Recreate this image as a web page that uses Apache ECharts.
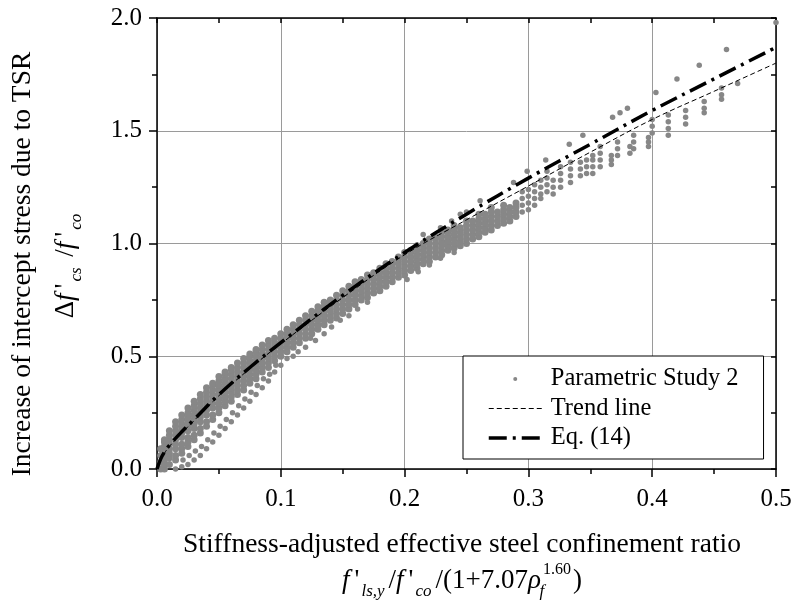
<!DOCTYPE html>
<html>
<head>
<meta charset="utf-8">
<script src="https://cdn.jsdelivr.net/npm/echarts@6/dist/echarts.min.js"></script>
<style>html,body{margin:0;padding:0;background:#fff}#c{width:796px;height:610px}</style>
</head>
<body>
<div id="c"></div>
<script>
// ---- data ----
const xTicks = [0.0, 0.1, 0.2, 0.3, 0.4, 0.5];
const yTicks = [0.0, 0.5, 1.0, 1.5, 2.0];

// dense core of Parametric Study 2: [x, [y values]]
const bandColumns = [
 [0.003,[0.00,0.03,0.06,0.09]],
 [0.006,[0.00,0.02,0.04,0.06,0.08,0.10,0.12,0.13]],
 [0.010,[0.02,0.05,0.07,0.09,0.11,0.13,0.15,0.17]],
 [0.015,[0.04,0.06,0.09,0.11,0.13,0.15,0.17,0.19,0.21]],
 [0.020,[0.07,0.09,0.11,0.14,0.16,0.18,0.20,0.22,0.24]],
 [0.025,[0.10,0.12,0.14,0.17,0.19,0.21,0.23,0.25,0.27]],
 [0.030,[0.13,0.15,0.18,0.20,0.22,0.24,0.26,0.28,0.30]],
 [0.035,[0.16,0.18,0.21,0.23,0.25,0.27,0.29,0.31,0.33]],
 [0.040,[0.19,0.21,0.24,0.26,0.28,0.30,0.32,0.34,0.36]],
 [0.045,[0.22,0.24,0.27,0.29,0.31,0.33,0.35,0.37,0.38]],
 [0.050,[0.25,0.27,0.29,0.31,0.33,0.35,0.37,0.39,0.41]],
 [0.055,[0.28,0.30,0.32,0.34,0.36,0.38,0.40,0.42,0.43]],
 [0.060,[0.30,0.32,0.34,0.36,0.38,0.40,0.42,0.44,0.45]],
 [0.065,[0.33,0.35,0.37,0.39,0.41,0.43,0.45,0.47]],
 [0.070,[0.35,0.37,0.39,0.41,0.43,0.45,0.47,0.49]],
 [0.075,[0.38,0.40,0.42,0.44,0.46,0.48,0.50,0.51]],
 [0.080,[0.40,0.42,0.44,0.46,0.48,0.50,0.52,0.53]],
 [0.085,[0.43,0.45,0.47,0.49,0.51,0.53,0.55]],
 [0.090,[0.45,0.47,0.49,0.51,0.53,0.55,0.57]],
 [0.095,[0.48,0.50,0.52,0.54,0.56,0.58]],
 [0.100,[0.50,0.52,0.54,0.56,0.58,0.60]],
 [0.105,[0.52,0.54,0.56,0.58,0.60,0.62]],
 [0.110,[0.54,0.56,0.58,0.60,0.62,0.64]],
 [0.115,[0.56,0.58,0.60,0.62,0.64,0.66]],
 [0.120,[0.58,0.60,0.62,0.64,0.66,0.68]],
 [0.125,[0.60,0.62,0.64,0.66,0.68,0.70]],
 [0.130,[0.62,0.64,0.66,0.68,0.70,0.72]],
 [0.135,[0.64,0.66,0.68,0.70,0.72,0.74]],
 [0.140,[0.66,0.68,0.70,0.72,0.74,0.75]],
 [0.145,[0.67,0.69,0.71,0.73,0.75,0.77]],
 [0.150,[0.69,0.71,0.73,0.75,0.77,0.79]],
 [0.155,[0.71,0.73,0.75,0.77,0.79,0.81]],
 [0.160,[0.73,0.75,0.77,0.79,0.81,0.83]],
 [0.165,[0.75,0.77,0.79,0.81,0.83,0.84]],
 [0.170,[0.76,0.78,0.80,0.82,0.84,0.86]],
 [0.175,[0.78,0.80,0.82,0.84,0.86,0.87]],
 [0.180,[0.79,0.81,0.83,0.85,0.87,0.89]],
 [0.185,[0.81,0.83,0.85,0.87,0.89,0.91]],
 [0.190,[0.83,0.85,0.87,0.89,0.91,0.92]],
 [0.195,[0.85,0.87,0.89,0.91,0.93,0.94]],
 [0.200,[0.86,0.88,0.90,0.92,0.94,0.96]],
 [0.205,[0.88,0.90,0.92,0.94,0.96,0.97]],
 [0.210,[0.89,0.91,0.93,0.95,0.97,0.99]],
 [0.215,[0.91,0.93,0.95,0.97,0.99,1.00]],
 [0.220,[0.92,0.94,0.96,0.98,1.00,1.02]],
 [0.225,[0.94,0.96,0.98,1.00,1.02,1.03]],
 [0.230,[0.95,0.97,0.99,1.01,1.03,1.05]],
 [0.235,[0.97,0.99,1.01,1.03,1.05,1.06]],
 [0.240,[0.98,1.00,1.02,1.04,1.06,1.08]],
 [0.245,[0.99,1.01,1.03,1.05,1.07]],
 [0.250,[1.00,1.02,1.04,1.06,1.08,1.10]],
 [0.255,[1.02,1.04,1.06,1.08,1.10]],
 [0.260,[1.03,1.05,1.07,1.09,1.11,1.13]],
 [0.265,[1.05,1.07,1.09,1.11,1.13]],
 [0.270,[1.06,1.08,1.10,1.12,1.14,1.16]],
 [0.275,[1.08,1.10,1.12,1.14]],
 [0.280,[1.09,1.11,1.13,1.15,1.17]],
 [0.285,[1.10,1.12,1.14,1.16]],
 [0.290,[1.12,1.14,1.16,1.18]]
];

// vertical streaks of the sparser upper range: [x, [y values]]
const streakColumns = [
 [0.295,[1.14,1.17,1.20,1.23]],
 [0.300,[1.15,1.18,1.21,1.24]],
 [0.305,[1.17,1.20,1.23,1.26]],
 [0.310,[1.20,1.22,1.25,1.28]],
 [0.315,[1.23,1.26,1.29,1.32]],
 [0.320,[1.22,1.25,1.28]],
 [0.326,[1.25,1.28,1.31,1.34]],
 [0.334,[1.27,1.30,1.33,1.36]],
 [0.342,[1.30,1.33,1.36]],
 [0.347,[1.31,1.34,1.37]],
 [0.352,[1.31,1.34,1.37,1.39]],
 [0.358,[1.34,1.37,1.40,1.43]],
 [0.367,[1.35,1.37,1.39]],
 [0.372,[1.39,1.42,1.45]],
 [0.382,[1.40,1.43]],
 [0.385,[1.42,1.45,1.48]],
 [0.397,[1.43,1.45,1.47]],
 [0.400,[1.49,1.52,1.55]],
 [0.413,[1.48,1.51,1.54,1.57]],
 [0.427,[1.53,1.56,1.59]],
 [0.442,[1.58,1.60,1.63]],
 [0.456,[1.64,1.66,1.69]]
];

// sparse points below the core (lower fan)
const fanPoints = [
 [0.015,0.00],[0.020,0.01],[0.021,0.04],[0.025,0.02],[0.026,0.06],[0.030,0.04],[0.031,0.08],
 [0.035,0.06],[0.036,0.10],[0.040,0.09],[0.041,0.13],[0.045,0.12],[0.046,0.16],[0.050,0.15],
 [0.051,0.19],[0.055,0.18],[0.056,0.22],[0.060,0.21],[0.061,0.25],[0.065,0.24],[0.066,0.28],
 [0.070,0.27],[0.071,0.31],[0.075,0.30],[0.076,0.34],[0.080,0.33],[0.081,0.37],[0.085,0.36],
 [0.086,0.40],[0.090,0.39],[0.091,0.42],[0.095,0.43],[0.096,0.46],[0.100,0.46],[0.105,0.49],
 [0.110,0.50],[0.114,0.52],[0.120,0.54],[0.124,0.58],[0.128,0.57],[0.135,0.60],[0.141,0.63],
 [0.148,0.66],[0.155,0.68],[0.162,0.71],[0.170,0.74],[0.202,0.84],[0.211,0.875],[0.220,0.905],
 [0.229,0.935],[0.240,0.96]
];

// points above the core
const upperPoints = [
 [0.215,1.04],[0.229,1.07],[0.238,1.10],[0.245,1.13],[0.250,1.14],[0.261,1.19],[0.288,1.27],
 [0.299,1.32],[0.314,1.37],[0.333,1.44],[0.344,1.48],[0.368,1.56],[0.374,1.58],[0.380,1.60],
 [0.403,1.67],[0.420,1.73],[0.438,1.79],[0.460,1.86],[0.469,1.71],[0.500,1.98]
];

// Eq. (14) and trend line
const curveX   = [0, 0.003, 0.006, 0.01, 0.02, 0.03, 0.05, 0.075, 0.1, 0.15, 0.2, 0.25, 0.3, 0.35, 0.4, 0.45, 0.5];
const eq14Y    = [0, 0.045, 0.075, 0.105, 0.165, 0.22, 0.33, 0.45, 0.56, 0.77, 0.96, 1.13, 1.29, 1.44, 1.59, 1.73, 1.87];
const trendY   = [0, 0.040, 0.070, 0.100, 0.160, 0.215, 0.325, 0.445, 0.555, 0.76, 0.95, 1.105, 1.255, 1.405, 1.55, 1.675, 1.80];

// ---- build chart ----
const expand = cols => cols.flatMap(([x, ys]) => ys.map(y => [x, y]));
const bandData = expand(bandColumns);
const studyData = [].concat(bandData, fanPoints, expand(streakColumns), upperPoints);
const bandCount = bandData.length;
const eqData = curveX.map((x, i) => [x, eq14Y[i]]);
const trendData = curveX.map((x, i) => [x, trendY[i]]);

const FONT = '"Liberation Serif", "Times New Roman", serif';
const chart = echarts.init(document.getElementById('c'), null, {renderer: 'canvas'});

const axisCommon = {
  type: 'value',
  axisLine: {show: true, onZero: false, lineStyle: {color: '#000', width: 1.5}},
  splitLine: {show: false},
  minorSplitLine: {show: false}
};

const richMath = {
  n: {fontFamily: FONT, fontSize: 27, lineHeight: 38, verticalAlign: 'middle'},
  np: {fontFamily: FONT, fontSize: 27, lineHeight: 38, verticalAlign: 'middle', padding: [0, 2, 0, 5]},
  i: {fontFamily: FONT, fontSize: 27, fontStyle: 'italic', lineHeight: 38, verticalAlign: 'middle'},
  sub: {fontFamily: FONT, fontSize: 17, fontStyle: 'italic', lineHeight: 17, verticalAlign: 'bottom', padding: [0, 4, 0, 0]},
  subf: {fontFamily: FONT, fontSize: 17, fontStyle: 'italic', lineHeight: 17, verticalAlign: 'bottom', width: 2},
  sup: {fontFamily: FONT, fontSize: 16, lineHeight: 16, verticalAlign: 'top', padding: [0, 2, 0, 0]}
};

chart.setOption({
  animation: false,
  backgroundColor: '#fff',
  grid: {left: 157, top: 18, right: 20, bottom: 141, containLabel: false, outerBoundsMode: 'none'},
  xAxis: [
    Object.assign({}, axisCommon, {
      position: 'bottom', min: 0, max: 0.5, interval: 0.1,
      axisTick: {show: true, inside: false, length: 8, lineStyle: {color: '#000', width: 1.5}},
      minorTick: {show: true, splitNumber: 2, length: 5, lineStyle: {color: '#000', width: 1.5}},
      axisLabel: {show: true, margin: 18, color: '#000', fontFamily: FONT, fontSize: 25,
        formatter: v => xTicks.some(t => Math.abs(t - v) < 1e-9) ? v.toFixed(1) : ''},
      splitLine: {show: true, lineStyle: {color: '#9a9a9a', width: 1}}
    }),
    Object.assign({}, axisCommon, {
      position: 'top', min: 0, max: 0.5, interval: 0.1,
      axisTick: {show: true, inside: true, length: 5, lineStyle: {color: '#000', width: 1.5}},
      minorTick: {show: true, splitNumber: 2, length: 5, lineStyle: {color: '#000', width: 1.5}},
      axisLabel: {show: false}
    })
  ],
  yAxis: [
    Object.assign({}, axisCommon, {
      position: 'left', min: 0, max: 2, interval: 0.5,
      axisTick: {show: true, inside: false, length: 8, lineStyle: {color: '#000', width: 1.5}},
      minorTick: {show: true, splitNumber: 2, length: 5, lineStyle: {color: '#000', width: 1.5}},
      axisLabel: {show: true, margin: 15, color: '#000', fontFamily: FONT, fontSize: 25,
        formatter: v => yTicks.some(t => Math.abs(t - v) < 1e-9) ? v.toFixed(1) : ''},
      splitLine: {show: true, lineStyle: {color: '#9a9a9a', width: 1}}
    }),
    Object.assign({}, axisCommon, {
      position: 'right', min: 0, max: 2, interval: 0.5,
      axisTick: {show: true, inside: true, length: 5, lineStyle: {color: '#000', width: 1.5}},
      minorTick: {show: true, splitNumber: 2, length: 5, lineStyle: {color: '#000', width: 1.5}},
      axisLabel: {show: false}
    })
  ],
  legend: {
    orient: 'vertical', left: 463, top: 356,
    padding: [10.5, 25, 8.5, 24], itemGap: 4.5,
    itemWidth: 53, itemHeight: 4,
    backgroundColor: '#fff', borderColor: '#000', borderWidth: 1,
    textStyle: {fontFamily: FONT, fontSize: 24.5, color: '#000', padding: [0, 0, 0, 4]},
    data: [
      {name: 'Parametric Study 2', icon: 'circle'},
      {name: 'Trend line', itemStyle: {opacity: 0}, lineStyle: {width: 1}},
      {name: 'Eq. (14)', itemStyle: {opacity: 0}, lineStyle: {width: 3.5}}
    ]
  },
  series: [
    {
      name: 'Parametric Study 2', type: 'scatter', data: studyData,
      symbol: 'circle',
      symbolSize: (v, p) => (p.dataIndex < bandCount ? 7 : 5.5),
      itemStyle: {color: '#878787', opacity: 1}, z: 2
    },
    {
      name: 'Trend line', type: 'line', data: trendData, smooth: 0.4,
      symbol: 'none', itemStyle: {color: '#000'},
      lineStyle: {color: '#000', width: 1, type: [5, 3]}, z: 3
    },
    {
      name: 'Eq. (14)', type: 'line', data: eqData, smooth: 0.4,
      symbol: 'none', itemStyle: {color: '#000'},
      lineStyle: {color: '#000', width: 3.5, type: [18, 6, 3, 6]}, z: 4
    }
  ],
  graphic: [
    {
      type: 'text', x: 23, y: 264, rotation: Math.PI / 2,
      style: {text: 'Increase of intercept stress due to TSR', fill: '#000',
        font: '27.5px "Liberation Serif"', align: 'center', verticalAlign: 'middle'}
    },
    {
      type: 'text', x: 66, y: 264, rotation: Math.PI / 2,
      style: {
        text: '{n|Δ}{i|f}{np|\'}{sub|cs}{n| /}{i|f}{np|\'}{sub|co}',
        align: 'center', verticalAlign: 'middle', fill: '#000',
        rich: richMath
      }
    },
    {
      type: 'text', x: 462, y: 545,
      style: {text: 'Stiffness-adjusted effective steel confinement ratio', fill: '#000',
        font: '27.5px "Liberation Serif"', align: 'center', verticalAlign: 'middle'}
    },
    {
      type: 'text', x: 462, y: 581,
      style: {
        text: '{i|f}{np|\'}{sub|ls,y}{n|/}{i|f}{np|\'}{sub|co}{n|/(1+7.07}{i|ρ}{subf|f}{sup|1.60}{n|)}',
        align: 'center', verticalAlign: 'middle', fill: '#000',
        rich: richMath
      }
    }
  ]
});
</script>
</body>
</html>
